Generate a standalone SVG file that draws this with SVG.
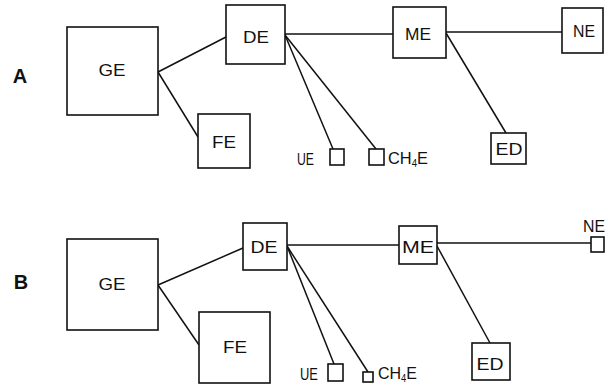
<svg xmlns="http://www.w3.org/2000/svg" width="606" height="385" viewBox="0 0 606 385">
<style>
.box{fill:#fff;stroke:#111;stroke-width:1.6}
.ln{stroke:#111;stroke-width:1.5;fill:none}
.t{font-family:"Liberation Sans",Arial,sans-serif;font-size:17px;fill:#111;text-anchor:middle}
.s{font-family:"Liberation Sans",Arial,sans-serif;font-size:17px;fill:#111}
.sub{font-size:10px}
.p{font-family:"Liberation Sans",Arial,sans-serif;font-size:20px;font-weight:bold;fill:#111;text-anchor:middle}
</style>
<rect width="606" height="385" fill="#fff"/>
<text class="p" x="20" y="83">A</text>
<text class="p" x="21" y="289">B</text>
<g id="connectors">
<line class="ln" x1="158" y1="72" x2="226" y2="37"/>
<line class="ln" x1="158" y1="72" x2="198" y2="137"/>
<line class="ln" x1="285" y1="34" x2="393" y2="34"/>
<line class="ln" x1="285" y1="35" x2="333" y2="149"/>
<line class="ln" x1="285" y1="35" x2="376" y2="149"/>
<line class="ln" x1="446" y1="32" x2="562" y2="32"/>
<line class="ln" x1="446" y1="33" x2="506" y2="133"/>
<line class="ln" x1="158" y1="285" x2="243" y2="248"/>
<line class="ln" x1="158" y1="285" x2="199" y2="345"/>
<line class="ln" x1="287" y1="245" x2="399" y2="245"/>
<line class="ln" x1="287" y1="246" x2="334" y2="364"/>
<line class="ln" x1="287" y1="246" x2="368" y2="372"/>
<line class="ln" x1="437" y1="243" x2="591" y2="243"/>
<line class="ln" x1="437" y1="246" x2="490" y2="343"/>
</g>
<g id="A-GE"><rect class="box" x="67" y="27" width="91" height="88"/><text class="t" x="112" y="76" textLength="27" lengthAdjust="spacingAndGlyphs">GE</text></g>
<g id="A-DE"><rect class="box" x="226" y="5" width="59" height="59"/><text class="t" x="256" y="43" textLength="26" lengthAdjust="spacingAndGlyphs">DE</text></g>
<g id="A-FE"><rect class="box" x="198" y="114" width="52" height="54"/><text class="t" x="224" y="148" textLength="24" lengthAdjust="spacingAndGlyphs">FE</text></g>
<g id="A-ME"><rect class="box" x="393" y="7" width="53" height="51"/><text class="t" x="418" y="40" textLength="26" lengthAdjust="spacingAndGlyphs">ME</text></g>
<g id="A-NE"><rect class="box" x="562" y="8" width="41" height="45"/><text class="t" x="584" y="37" textLength="22" lengthAdjust="spacingAndGlyphs">NE</text></g>
<g id="A-ED"><rect class="box" x="491" y="133" width="35" height="31"/><text class="t" x="509" y="155" textLength="27" lengthAdjust="spacingAndGlyphs">ED</text></g>
<g id="A-UE"><rect class="box" x="330" y="149" width="14" height="16"/><text class="s" x="297" y="165" textLength="17" lengthAdjust="spacingAndGlyphs">UE</text></g>
<g id="A-CH4E"><rect class="box" x="369" y="149" width="15" height="16"/><text class="s" x="388" y="164" textLength="40" lengthAdjust="spacingAndGlyphs">CH<tspan class="sub" dy="3">4</tspan><tspan dy="-3">E</tspan></text></g>
<g id="B-GE"><rect class="box" x="67" y="239" width="91" height="91"/><text class="t" x="112" y="290" textLength="27" lengthAdjust="spacingAndGlyphs">GE</text></g>
<g id="B-DE"><rect class="box" x="243" y="223" width="44" height="47"/><text class="t" x="264" y="253" textLength="27" lengthAdjust="spacingAndGlyphs">DE</text></g>
<g id="B-FE"><rect class="box" x="199" y="312" width="71" height="71"/><text class="t" x="235" y="353" textLength="24" lengthAdjust="spacingAndGlyphs">FE</text></g>
<g id="B-ME"><rect class="box" x="399" y="226" width="38" height="38"/><text class="t" x="418" y="253" textLength="32" lengthAdjust="spacingAndGlyphs">ME</text></g>
<g id="B-NE"><rect class="box" x="591" y="237" width="13" height="15"/><text class="t" x="594" y="232" textLength="22" lengthAdjust="spacingAndGlyphs">NE</text></g>
<g id="B-ED"><rect class="box" x="472" y="343" width="38" height="37"/><text class="t" x="490" y="370" textLength="27" lengthAdjust="spacingAndGlyphs">ED</text></g>
<g id="B-UE"><rect class="box" x="328" y="364" width="15" height="17"/><text class="s" x="300" y="380" textLength="18" lengthAdjust="spacingAndGlyphs">UE</text></g>
<g id="B-CH4E"><rect class="box" x="363" y="372" width="10" height="10"/><text class="s" x="378" y="379" textLength="39" lengthAdjust="spacingAndGlyphs">CH<tspan class="sub" dy="3">4</tspan><tspan dy="-3">E</tspan></text></g>
</svg>
